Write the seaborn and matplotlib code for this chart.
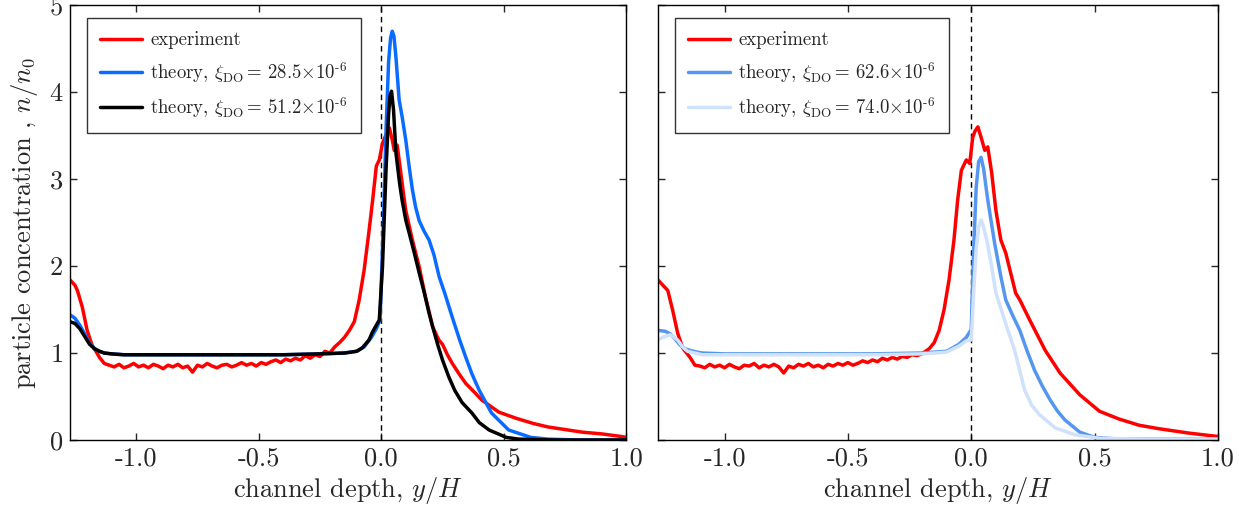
import numpy as np
import pandas as pd
import matplotlib
matplotlib.use("Agg")
import matplotlib.pyplot as plt
import seaborn as sns

# ---- data ----
# left panel: experiment
exp_l_x = [-1.27, -1.25, -1.24, -1.22, -1.20, -1.18, -1.16, -1.15, -1.13, -1.11, -1.09, -1.07, -1.05, -1.03,
           -1.01, -0.99, -0.97, -0.95, -0.93, -0.91, -0.89, -0.87, -0.85, -0.83, -0.81, -0.79, -0.77, -0.75,
           -0.73, -0.71, -0.69, -0.67, -0.65, -0.63, -0.61, -0.59, -0.57, -0.55, -0.53, -0.51, -0.49, -0.47,
           -0.45, -0.43, -0.41, -0.39, -0.37, -0.35, -0.33, -0.31, -0.29, -0.27, -0.25, -0.23, -0.21, -0.19,
           -0.17, -0.15, -0.13, -0.11, -0.09, -0.07, -0.05, -0.035, -0.02, -0.008, 0.005, 0.018, 0.033,
           0.045, 0.053, 0.065, 0.08, 0.09, 0.10, 0.127, 0.155, 0.18, 0.21, 0.235, 0.25, 0.27, 0.29, 0.32,
           0.345, 0.38, 0.41, 0.45, 0.48, 0.52, 0.55, 0.62, 0.68, 0.75, 0.82, 0.90, 0.98, 1.0]
exp_l_y = [1.84, 1.78, 1.72, 1.53, 1.26, 1.09, 1.00, 0.95, 0.88, 0.86, 0.84, 0.87, 0.83, 0.85,
           0.88, 0.84, 0.86, 0.83, 0.87, 0.85, 0.82, 0.86, 0.84, 0.87, 0.83, 0.85, 0.78, 0.86,
           0.84, 0.88, 0.85, 0.83, 0.86, 0.87, 0.84, 0.86, 0.89, 0.86, 0.88, 0.85, 0.89, 0.87,
           0.90, 0.92, 0.89, 0.93, 0.91, 0.94, 0.92, 0.97, 0.94, 0.98, 0.96, 1.02, 1.00, 1.07,
           1.12, 1.18, 1.26, 1.36, 1.61, 1.95, 2.40, 2.76, 3.15, 3.22, 3.41, 3.50, 3.59,
           3.45, 3.33, 3.39, 3.07, 2.85, 2.64, 2.30, 1.99, 1.65, 1.30, 1.15, 1.10, 0.98, 0.88, 0.75,
           0.65, 0.55, 0.46, 0.38, 0.32, 0.28, 0.25, 0.19, 0.15, 0.12, 0.09, 0.07, 0.04, 0.03]

# left panel: theory xi = 28.5e-6
th1_x = [-1.27, -1.25, -1.23, -1.21, -1.19, -1.17, -1.15, -1.13, -1.10, -1.05, -1.0, -0.8, -0.6, -0.4,
         -0.25, -0.15, -0.10, -0.07, -0.04, -0.02, -0.005, 0.01, 0.02, 0.03, 0.038, 0.045, 0.052, 0.06,
         0.073, 0.085, 0.10, 0.115, 0.127, 0.14, 0.155, 0.175, 0.195, 0.215, 0.236, 0.26, 0.29, 0.32,
         0.345, 0.37, 0.40, 0.45, 0.52, 0.61, 0.68, 0.8, 1.0]
th1_y = [1.44, 1.40, 1.32, 1.22, 1.11, 1.05, 1.02, 1.00, 0.99, 0.98, 0.98, 0.98, 0.98, 0.98,
         0.99, 1.00, 1.02, 1.07, 1.18, 1.28, 1.38, 2.60, 3.60, 4.35, 4.62, 4.70, 4.64, 4.40,
         3.91, 3.72, 3.45, 3.12, 2.88, 2.68, 2.52, 2.40, 2.30, 2.13, 1.88, 1.68, 1.41, 1.15,
         0.95, 0.76, 0.57, 0.31, 0.115, 0.03, 0.01, 0.0, 0.0]

# left panel: theory xi = 51.2e-6
th2_x = [-1.27, -1.25, -1.23, -1.21, -1.19, -1.17, -1.15, -1.13, -1.10, -1.05, -1.0, -0.8, -0.6, -0.4,
         -0.25, -0.15, -0.10, -0.077, -0.05, -0.036, -0.008, 0.005, 0.02, 0.03, 0.036, 0.042, 0.05, 0.06,
         0.075, 0.085, 0.10, 0.114, 0.135, 0.155, 0.175, 0.195, 0.21, 0.23, 0.25, 0.275, 0.30, 0.33,
         0.37, 0.40, 0.44, 0.51, 0.56, 0.7, 1.0]
th2_y = [1.36, 1.34, 1.28, 1.19, 1.10, 1.05, 1.02, 1.00, 0.99, 0.98, 0.98, 0.98, 0.98, 0.98,
         0.99, 1.00, 1.02, 1.06, 1.15, 1.24, 1.38, 1.99, 3.14, 3.75, 3.96, 4.01, 3.80, 3.30,
         2.95, 2.76, 2.53, 2.38, 2.15, 1.92, 1.70, 1.46, 1.30, 1.10, 0.92, 0.73, 0.57, 0.43,
         0.31, 0.20, 0.115, 0.03, 0.01, 0.0, 0.0]

# right panel: experiment
exp_r_x = [-1.27, -1.25, -1.23, -1.21, -1.19, -1.17, -1.14, -1.12, -1.10, -1.08, -1.06, -1.04, -1.02,
           -1.00, -0.98, -0.96, -0.94, -0.92, -0.90, -0.88, -0.86, -0.84, -0.82, -0.80, -0.78, -0.76,
           -0.74, -0.72, -0.70, -0.68, -0.66, -0.64, -0.62, -0.60, -0.58, -0.56, -0.54, -0.52, -0.50,
           -0.48, -0.46, -0.44, -0.42, -0.40, -0.38, -0.36, -0.34, -0.32, -0.30, -0.28, -0.26, -0.24,
           -0.22, -0.20, -0.17, -0.15, -0.13, -0.11, -0.09, -0.07, -0.055, -0.04, -0.02, -0.006, 0.006,
           0.015, 0.027, 0.04, 0.055, 0.067, 0.083, 0.10, 0.12, 0.14, 0.16, 0.18, 0.197, 0.237, 0.30,
           0.36, 0.44, 0.52, 0.60, 0.68, 0.76, 0.88, 1.0]
exp_r_y = [1.84, 1.78, 1.72, 1.49, 1.23, 1.06, 0.95, 0.86, 0.85, 0.83, 0.87, 0.84, 0.86,
           0.83, 0.87, 0.84, 0.82, 0.86, 0.85, 0.88, 0.83, 0.86, 0.84, 0.87, 0.84, 0.77,
           0.85, 0.83, 0.87, 0.85, 0.88, 0.84, 0.86, 0.83, 0.87, 0.85, 0.88, 0.86, 0.89,
           0.86, 0.88, 0.91, 0.89, 0.92, 0.90, 0.94, 0.92, 0.95, 0.93, 0.96, 0.95, 0.98,
           0.97, 0.99, 1.05, 1.12, 1.26, 1.50, 1.84, 2.30, 2.76, 3.10, 3.22, 3.18, 3.48,
           3.55, 3.60, 3.48, 3.33, 3.37, 3.07, 2.64, 2.30, 2.15, 1.92, 1.69, 1.61, 1.38, 1.03,
           0.77, 0.52, 0.33, 0.24, 0.17, 0.13, 0.08, 0.04]

# right panel: theory xi = 62.6e-6
th3_x = [-1.27, -1.24, -1.22, -1.20, -1.18, -1.16, -1.14, -1.11, -1.09, -1.0, -0.8, -0.6, -0.4, -0.2,
         -0.10, -0.05, -0.02, 0.0, 0.01, 0.02, 0.03, 0.04, 0.05, 0.067, 0.095, 0.12, 0.14, 0.17, 0.197,
         0.227, 0.257, 0.29, 0.32, 0.35, 0.38, 0.44, 0.50, 0.6, 0.8, 1.0]
th3_y = [1.26, 1.25, 1.22, 1.16, 1.09, 1.05, 1.03, 1.01, 1.00, 0.99, 0.99, 0.99, 0.99, 1.00,
         1.02, 1.10, 1.18, 1.27, 2.20, 2.90, 3.20, 3.25, 3.12, 2.76, 2.26, 1.88, 1.61, 1.42, 1.26,
         1.02, 0.80, 0.61, 0.46, 0.33, 0.23, 0.09, 0.03, 0.01, 0.01, 0.01]

# right panel: theory xi = 74.0e-6
th4_x = [-1.27, -1.25, -1.22, -1.19, -1.17, -1.15, -1.12, -1.09, -1.0, -0.8, -0.6, -0.4, -0.2,
         -0.10, -0.05, -0.02, 0.0, 0.01, 0.02, 0.03, 0.04, 0.05, 0.063, 0.083, 0.10, 0.135, 0.176,
         0.217, 0.245, 0.277, 0.34, 0.42, 0.52, 0.7, 1.0]
th4_y = [1.15, 1.18, 1.21, 1.15, 1.07, 1.02, 1.00, 0.98, 0.98, 0.98, 0.98, 0.98, 0.99,
         1.01, 1.08, 1.14, 1.15, 1.70, 2.20, 2.45, 2.53, 2.45, 2.30, 1.99, 1.69, 1.38, 1.03,
         0.57, 0.40, 0.29, 0.14, 0.06, 0.02, 0.01, 0.01]

xticks = [-1.0, -0.5, 0.0, 0.5, 1.0]
xticklabels = ["-1.0", "-0.5", "0.0", "0.5", "1.0"]
yticks = [0, 1, 2, 3, 4, 5]

red = "#ff0000"
blue = "#0a6cff"
mid_blue = "#5597f0"
light_blue = "#cfe1fb"

sns.set_style("ticks")
plt.rcParams["font.family"] = ["serif"]
plt.rcParams["font.serif"] = ["cmr10", "DejaVu Serif"]
plt.rcParams["mathtext.fontset"] = "cm"
plt.rcParams["axes.unicode_minus"] = False
plt.rcParams["axes.formatter.use_mathtext"] = True

fig = plt.figure(figsize=(12.39, 5.14), dpi=100)
ax1 = fig.add_axes([0.0565, 0.144, 0.449, 0.846])
ax2 = fig.add_axes([0.531, 0.144, 0.452, 0.846])


def draw(ax, x, y, color, label, lw=2.5):
    df = pd.DataFrame({"x": x, "y": y})
    sns.lineplot(data=df, x="x", y="y", ax=ax, color=color, lw=lw, label=label,
                 sort=False, estimator=None)


draw(ax1, exp_l_x, exp_l_y, red, "experiment")
draw(ax1, th1_x, th1_y, blue, r"theory, $\xi_{\rm DO}=\,28.5{\times}10^{\text{-}6}$")
draw(ax1, th2_x, th2_y, "black", r"theory, $\xi_{\rm DO}=\,51.2{\times}10^{\text{-}6}$")

draw(ax2, exp_r_x, exp_r_y, red, "experiment")
draw(ax2, th3_x, th3_y, mid_blue, r"theory, $\xi_{\rm DO}=\,62.6{\times}10^{\text{-}6}$")
draw(ax2, th4_x, th4_y, light_blue, r"theory, $\xi_{\rm DO}=\,74.0{\times}10^{\text{-}6}$")

for ax in [ax1, ax2]:
    ax.axvline(0, color="black", ls=(0, (4, 3)), lw=1.0, zorder=1)
    ax.set_xlim(-1.27, 1.0)
    ax.set_ylim(0, 5)
    ax.set_xticks(xticks)
    ax.set_xticklabels(xticklabels)
    ax.set_yticks(yticks)
    ax.tick_params(direction="in", top=True, right=True, length=5, width=1, labelsize=19, pad=5)
    for s in ax.spines.values():
        s.set_linewidth(1.0)
        s.set_color("black")
    ax.set_xlabel(r"channel depth, $y/H$", fontsize=19, labelpad=3)
    leg = ax.legend(loc="upper left", fontsize=13.5, frameon=True, fancybox=False,
                    edgecolor="black", borderpad=0.7, labelspacing=0.55, handlelength=2.2,
                    handletextpad=0.45, borderaxespad=0, bbox_to_anchor=(0.031, 0.97))
    leg.get_frame().set_linewidth(1.0)

ax1.set_ylabel(r"particle concentration , $n/n_0$", fontsize=19, labelpad=6)
ax2.set_ylabel("")
ax2.set_yticklabels([])

fig.savefig("out.png", dpi=100)
